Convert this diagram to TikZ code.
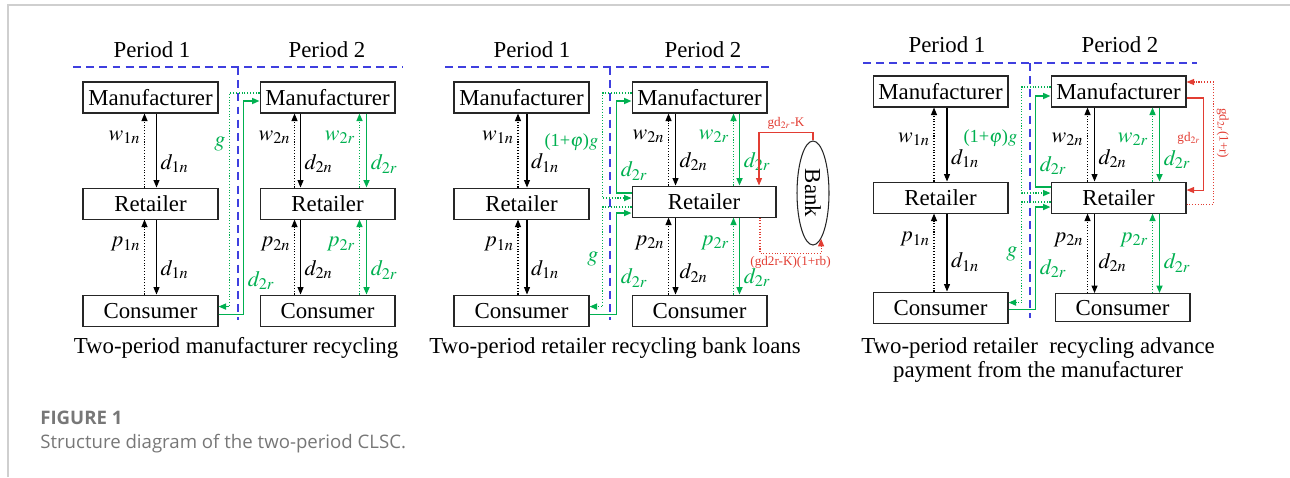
\documentclass[tikz,border=0pt]{standalone}
\usepackage{mathptmx}
\usepackage{graphicx}
\usepackage{fontspec}
\setmainfont{Liberation Serif}
\newfontfamily\capfont{Open Sans}
\usepackage{xcolor}
\usetikzlibrary{arrows.meta,positioning,shapes.geometric}
\definecolor{recgreen}{HTML}{00B050}
\definecolor{periodblue}{HTML}{3F3FDF}
\definecolor{loanred}{HTML}{E23D33}
\definecolor{framegray}{HTML}{CFCFCF}
\definecolor{capgray}{HTML}{777777}
\newcommand{\boxfont}{\fontsize{13}{15}\selectfont}
\newcommand{\labfont}{\fontsize{12.5}{14}\selectfont}
\newcommand{\loanfont}{\fontsize{7.5}{9}\selectfont}
\newcommand{\prepaid}{{\fontsize{10.5}{12}\selectfont(1+$\varphi$)$g$}}

\begin{document}
\begin{tikzpicture}[
  x=0.02cm, y=-0.02cm,
  box/.style={draw=black!85,line width=0.6pt,minimum width=2.7cm,minimum height=0.62cm,
              inner sep=0pt,font=\boxfont},
  bankshape/.style={draw=black!85,ellipse,line width=0.6pt,minimum width=0.64cm,
                    minimum height=2.08cm,inner sep=0pt,font=\boxfont},
  sale/.style={line width=0.6pt,-{Triangle[length=1.5mm,width=1.2mm]}},
  price/.style={sale,densely dotted},
  resale/.style={sale,recgreen,line width=0.9pt},
  reprice/.style={sale,recgreen,densely dotted,line width=0.8pt},
  loan/.style={sale,loanred},
  repay/.style={loan,densely dotted},
  divider/.style={periodblue,line width=0.9pt,dash pattern=on 4.5pt off 3pt},
  lab/.style={font=\labfont,inner sep=2pt},
  glab/.style={lab,text=recgreen},
  rlab/.style={font=\loanfont,text=loanred,inner sep=1.5pt},
  title/.style={font=\boxfont,align=center},
  caption/.style={anchor=west,inner sep=0pt,text=capgray}
]
  \useasboundingbox (0,0) rectangle (1290,477);
  \draw[framegray,line width=0.7pt] (8,477) -- (8,5) -- (1290,5);

  % two-period manufacturer recycling
  \node[title] at (152,50) {Period 1};
  \node[title] at (327,50) {Period 2};
  \draw[divider] (73,67) -- (403,67);
  \draw[divider] (238,67) -- (238,320);
  \node[box] (mA1) at (150.5,97.5) {Manufacturer};
  \node[box,below=1.48cm of mA1] (rA1) {Retailer};
  \node[box,below=1.5cm of rA1] (cA1) {Consumer};
  \node[box,right=0.82cm of mA1] (mA2) {Manufacturer};
  \node[box,right=0.82cm of rA1] (rA2) {Retailer};
  \node[box,right=0.82cm of cA1] (cA2) {Consumer};

  \draw[price] ([xshift=-0.12cm]mA1.south |- rA1.north) -- node[lab,pos=0.68,left]{$w_{1n}$} ([xshift=-0.12cm]mA1.south);
  \draw[sale] ([xshift=0.12cm]mA1.south) -- node[lab,pos=0.68,right]{$d_{1n}$} ([xshift=0.12cm]mA1.south |- rA1.north);
  \draw[price] ([xshift=-0.12cm]rA1.south |- cA1.north) -- node[lab,pos=0.67,left]{$p_{1n}$} ([xshift=-0.12cm]rA1.south);
  \draw[sale] ([xshift=0.12cm]rA1.south) -- node[lab,pos=0.67,right]{$d_{1n}$} ([xshift=0.12cm]rA1.south |- cA1.north);

  \draw[price] ([xshift=-0.66cm]mA2.south |- rA2.north) -- node[lab,pos=0.68,left]{$w_{2n}$} ([xshift=-0.66cm]mA2.south);
  \draw[sale] ([xshift=-0.54cm]mA2.south) -- node[lab,pos=0.68,right]{$d_{2n}$} ([xshift=-0.54cm]mA2.south |- rA2.north);
  \draw[reprice] ([xshift=0.64cm]mA2.south |- rA2.north) -- node[glab,pos=0.68,left]{$w_{2r}$} ([xshift=0.64cm]mA2.south);
  \draw[resale] ([xshift=0.78cm]mA2.south) -- node[glab,pos=0.68,right]{$d_{2r}$} ([xshift=0.78cm]mA2.south |- rA2.north);
  \draw[price] ([xshift=-0.66cm]rA2.south |- cA2.north) -- node[lab,pos=0.67,left]{$p_{2n}$} ([xshift=-0.66cm]rA2.south);
  \draw[sale] ([xshift=-0.54cm]rA2.south) -- node[lab,pos=0.67,right]{$d_{2n}$} ([xshift=-0.54cm]rA2.south |- cA2.north);
  \draw[reprice] ([xshift=0.64cm]rA2.south |- cA2.north) -- node[glab,pos=0.67,left]{$p_{2r}$} ([xshift=0.64cm]rA2.south);
  \draw[resale] ([xshift=0.78cm]rA2.south) -- node[glab,pos=0.67,right]{$d_{2r}$} ([xshift=0.78cm]rA2.south |- cA2.north);

  \draw[reprice] ([yshift=0.09cm]mA2.west) -- ++(-30,0) |- node[glab,pos=0.12,left]{$g$} ([yshift=0.08cm]cA1.east);
  \draw[resale] ([yshift=-0.08cm]cA1.east) -- ++(25,0) |- node[glab,pos=0.08,right]{$d_{2r}$} ([yshift=-0.07cm]mA2.west);

  \node[title] at (236,348) {Two-period manufacturer recycling};

  % two-period retailer recycling, bank loans
  \node[title] at (532,50) {Period 1};
  \node[title] at (703,50) {Period 2};
  \draw[divider] (445,67) -- (773,67);
  \draw[divider] (610,67) -- (610,320);
  \node[box] (mB1) at (521.5,97.5) {Manufacturer};
  \node[box,below=1.48cm of mB1] (rB1) {Retailer};
  \node[box,below=1.5cm of rB1] (cB1) {Consumer};
  \node[box,right=0.84cm of mB1] (mB2) {Manufacturer};
  \node[box,minimum width=2.88cm,below=1.44cm of mB2.south west,anchor=north west] (rB2) {Retailer};
  \node[box,right=0.84cm of cB1] (cB2) {Consumer};
  \node[bankshape] (bank) at (813,193) {\rotatebox{-90}{Bank}};

  \draw[price] ([xshift=-0.07cm]mB1.south |- rB1.north) -- node[lab,pos=0.68,left]{$w_{1n}$} ([xshift=-0.07cm]mB1.south);
  \draw[sale] ([xshift=0.11cm]mB1.south) -- node[lab,pos=0.67,right]{$d_{1n}$} ([xshift=0.11cm]mB1.south |- rB1.north);
  \draw[price] ([xshift=-0.07cm]rB1.south |- cB1.north) -- node[lab,pos=0.67,left]{$p_{1n}$} ([xshift=-0.07cm]rB1.south);
  \draw[sale] ([xshift=0.11cm]rB1.south) -- node[lab,pos=0.67,right]{$d_{1n}$} ([xshift=0.11cm]rB1.south |- cB1.north);

  \draw[price] ([xshift=-0.62cm]mB2.south |- rB2.north) -- node[lab,pos=0.68,left]{$w_{2n}$} ([xshift=-0.62cm]mB2.south);
  \draw[sale] ([xshift=-0.48cm]mB2.south) -- node[lab,pos=0.67,right]{$d_{2n}$} ([xshift=-0.48cm]mB2.south |- rB2.north);
  \draw[reprice] ([xshift=0.68cm]mB2.south |- rB2.north) -- node[glab,pos=0.68,left]{$w_{2r}$} ([xshift=0.68cm]mB2.south);
  \draw[resale] ([xshift=0.8cm]mB2.south) -- node[glab,pos=0.67,right]{$d_{2r}$} ([xshift=0.8cm]mB2.south |- rB2.north);
  \draw[price] ([xshift=-0.62cm]cB2.north) -- node[lab,pos=0.67,left]{$p_{2n}$} ([xshift=-0.62cm]cB2.north |- rB2.south);
  \draw[sale] ([xshift=-0.48cm]cB2.north |- rB2.south) -- node[lab,pos=0.72,right]{$d_{2n}$} ([xshift=-0.48cm]cB2.north);
  \draw[reprice] ([xshift=0.68cm]cB2.north) -- node[glab,pos=0.67,left]{$p_{2r}$} ([xshift=0.68cm]cB2.north |- rB2.south);
  \draw[resale] ([xshift=0.8cm]cB2.north |- rB2.south) -- node[glab,pos=0.78,right]{$d_{2r}$} ([xshift=0.8cm]cB2.north);

  \draw[reprice] ([yshift=0.09cm]mB2.west) -- ++(-29,0) |- node[glab,pos=0.235,left]{\prepaid} ([yshift=0.07cm]rB2.west);
  \draw[resale] ([yshift=0.17cm]rB2.west) -- ++(-15,0) |- node[glab,pos=0.12,right]{$d_{2r}$} ([yshift=-0.07cm]mB2.west);
  \draw[reprice] ([yshift=-0.11cm]rB2.west) -- ++(-29,0) |- node[glab,pos=0.26,left]{$g$} ([yshift=0.08cm]cB1.east);
  \draw[resale] ([yshift=-0.08cm]cB1.east) -- ++(27,0) |- node[glab,pos=0.18,right]{$d_{2r}$} ([yshift=-0.23cm]rB2.west);

  \draw[loan] (bank.north) -- ++(0,-8) -| node[rlab,pos=0.25,above]{gd$_{2r}$-K} ([xshift=1.1cm]rB2.north);
  \draw[repay] ([xshift=1.12cm]rB2.south) -- ++(0,36) -| node[rlab,pos=0.25,below]{(gd2r-K)(1+rb)} (bank.-80);

  \node[title] at (615,348) {Two-period retailer recycling bank loans};

  % two-period retailer recycling, advance payment
  \node[title] at (947,45) {Period 1};
  \node[title] at (1120,45) {Period 2};
  \draw[divider] (863,63) -- (1197,63);
  \draw[divider] (1030,63) -- (1030,318);
  \node[box] (mC1) at (940.5,91.5) {Manufacturer};
  \node[box,below=1.48cm of mC1] (rC1) {Retailer};
  \node[box,below=1.56cm of rC1] (cC1) {Consumer};
  \node[box,right=0.84cm of mC1] (mC2) {Manufacturer};
  \node[box,right=0.84cm of rC1] (rC2) {Retailer};
  \node[box,minimum height=0.56cm,right=0.92cm of cC1] (cC2) {Consumer};

  \draw[price] ([xshift=-0.13cm]mC1.south |- rC1.north) -- node[lab,pos=0.57,left]{$w_{1n}$} ([xshift=-0.13cm]mC1.south);
  \draw[sale] ([xshift=0.13cm]mC1.south) -- node[lab,pos=0.69,right]{$d_{1n}$} ([xshift=0.13cm]mC1.south |- rC1.north);
  \draw[price] ([xshift=-0.13cm]rC1.south |- cC1.north) -- node[lab,pos=0.67,left]{$p_{1n}$} ([xshift=-0.13cm]rC1.south);
  \draw[sale] ([xshift=0.13cm]rC1.south) -- node[lab,pos=0.62,right]{$d_{1n}$} ([xshift=0.13cm]rC1.south |- cC1.north);

  \draw[price] ([xshift=-0.62cm]mC2.south |- rC2.north) -- node[lab,pos=0.57,left]{$w_{2n}$} ([xshift=-0.62cm]mC2.south);
  \draw[sale] ([xshift=-0.48cm]mC2.south) -- node[lab,pos=0.69,right]{$d_{2n}$} ([xshift=-0.48cm]mC2.south |- rC2.north);
  \draw[reprice] ([xshift=0.68cm]mC2.south |- rC2.north) -- node[glab,pos=0.57,left]{$w_{2r}$} ([xshift=0.68cm]mC2.south);
  \draw[resale] ([xshift=0.82cm]mC2.south) -- node[glab,pos=0.7,right]{$d_{2r}$} ([xshift=0.82cm]mC2.south |- rC2.north);
  \draw[price] ([xshift=-0.62cm]rC2.south |- cC2.north) -- node[lab,pos=0.67,left]{$p_{2n}$} ([xshift=-0.62cm]rC2.south);
  \draw[sale] ([xshift=-0.48cm]rC2.south) -- node[lab,pos=0.62,right]{$d_{2n}$} ([xshift=-0.48cm]rC2.south |- cC2.north);
  \draw[reprice] ([xshift=0.68cm]rC2.south |- cC2.north) -- node[glab,pos=0.67,left]{$p_{2r}$} ([xshift=0.68cm]rC2.south);
  \draw[resale] ([xshift=0.82cm]rC2.south) -- node[glab,pos=0.62,right]{$d_{2r}$} ([xshift=0.82cm]rC2.south |- cC2.north);

  \draw[reprice] ([yshift=0.09cm]mC2.west) -- ++(-29,0) |- node[glab,pos=0.24,left]{\prepaid} ([yshift=0.09cm]rC2.west);
  \draw[resale] ([yshift=0.21cm]rC2.west) -- ++(-15,0) |- node[glab,pos=0.12,right]{$d_{2r}$} ([yshift=-0.09cm]mC2.west);
  \draw[reprice] ([yshift=-0.09cm]rC2.west) -- ++(-29,0) |- node[glab,pos=0.26,left]{$g$} ([yshift=0.1cm]cC1.east);
  \draw[resale] ([yshift=-0.04cm]cC1.east) -- ++(27,0) |- node[glab,pos=0.2,right]{$d_{2r}$} ([yshift=-0.19cm]rC2.west);

  \draw[loan] ([yshift=-0.13cm]mC2.east) -- ++(17,0) |- node[rlab,pos=0.22,left]{gd$_{2r}$} ([yshift=0.15cm]rC2.east);
  \draw[repay] ([yshift=-0.13cm]rC2.east) -- ++(27,0) |- node[rlab,pos=0.29,rotate=-90,anchor=south]{gd$_{2r}$(1+r)} ([yshift=0.19cm]mC2.east);

  \node[title,font=\fontsize{13}{13.7}\selectfont] at (1038,360) {Two-period retailer\ \ recycling advance\\payment from the manufacturer};

  % caption
  \node[caption,font=\capfont\bfseries\fontsize{10.6}{13}\selectfont] (figno) at (40,418) {FIGURE 1};
  \node[caption,font=\capfont\fontsize{10.6}{13}\selectfont] (figcap) at (40,444) {Structure diagram of the two-period CLSC.};
\end{tikzpicture}
\end{document}
